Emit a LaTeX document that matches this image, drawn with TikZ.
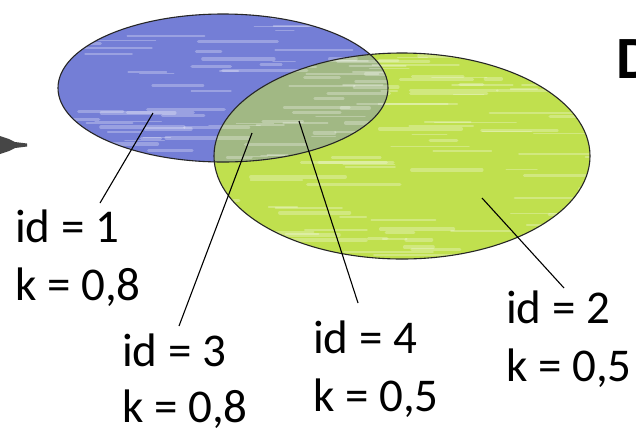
\documentclass[tikz,border=0pt]{standalone}
\usepackage{fontspec}
\setmainfont{Carlito}
\begin{document}
\begin{tikzpicture}[x=1pt,y=-1pt,
  lbl/.style={anchor=base west,inner sep=0pt,font=\fontsize{47}{56}\selectfont},
  pointer/.style={draw=black,line width=1.1pt},
  setline/.style={draw=black!85,line width=1.1pt},
  streak/.style={line cap=round,draw=white,draw opacity=0.28}]
\definecolor{setblue}{RGB}{116,126,214}
\definecolor{setgreen}{RGB}{192,224,78}
\definecolor{arrowgray}{RGB}{70,70,70}
\clip (0,0) rectangle (636,432);
\useasboundingbox (0,0) rectangle (636,432);
\fill[white] (0,0) rectangle (636,432);
% sets
\fill[setgreen] (402,156) ellipse [x radius=188,y radius=103];
\fill[setblue] (223,88) ellipse [x radius=165,y radius=74];
\begin{scope}
  \clip (223,88) ellipse [x radius=165,y radius=74];
  \fill[setgreen,fill opacity=0.6] (402,156) ellipse [x radius=188,y radius=103];
\end{scope}
% hand-coloured texture
\pgfmathsetseed{7}
\begin{scope}
  \clip (223,88) ellipse [x radius=165,y radius=74];
  \foreach \i in {1,...,70} {
    \pgfmathsetmacro{\sx}{60+330*rnd}
    \pgfmathsetmacro{\sy}{16+146*rnd}
    \pgfmathsetmacro{\sl}{15+70*rnd}
    \pgfmathsetmacro{\sw}{1+3*rnd}
    \draw[streak,line width=\sw pt] (\sx,\sy) -- ++(\sl,0);
  }
\end{scope}
\begin{scope}
  \clip (402,156) ellipse [x radius=188,y radius=103];
  \foreach \i in {1,...,90} {
    \pgfmathsetmacro{\sx}{214+376*rnd}
    \pgfmathsetmacro{\sy}{54+204*rnd}
    \pgfmathsetmacro{\sl}{15+80*rnd}
    \pgfmathsetmacro{\sw}{1+3*rnd}
    \draw[streak,line width=\sw pt] (\sx,\sy) -- ++(\sl,0);
  }
\end{scope}
\draw[setline] (223,88) ellipse [x radius=165,y radius=74];
\draw[setline] (402,156) ellipse [x radius=188,y radius=103];
% arrow tip at left
\fill[arrowgray] (0,136) -- (9,139) -- (15,142) -- (27,143.5) -- (27,146.5) -- (15,148) -- (9,151) -- (0,154) -- cycle;
% partial title letter
\node[anchor=base west,inner sep=0pt,font=\fontsize{60}{70}\selectfont\bfseries] (title) at (616,78) {D};
% labels
\node[lbl] (id1) at (15,242) {id = 1};
\node[lbl] (k1) at (15,300) {k = 0,8};
\node[lbl] (id3) at (122,366) {id = 3};
\node[lbl] (k3) at (122,422) {k = 0,8};
\node[lbl] (id4) at (313,353) {id = 4};
\node[lbl] (k4) at (313,411) {k = 0,5};
\node[lbl] (id2) at (506,323) {id = 2};
\node[lbl] (k2) at (506,381) {k = 0,5};
% pointer ends
\coordinate (p1) at (153,113);
\coordinate (q1) at (100,203);
\coordinate (p3) at (252,133);
\coordinate (q3) at (179,326);
\coordinate (p4) at (299,121);
\coordinate (q4) at (358,303);
\coordinate (p2) at (482,198);
\coordinate (q2) at (564,288);
\draw[pointer] (q1) -- (p1);
\draw[pointer] (q3) -- (p3);
\draw[pointer] (q4) -- (p4);
\draw[pointer] (q2) -- (p2);
\end{tikzpicture}
\end{document}
